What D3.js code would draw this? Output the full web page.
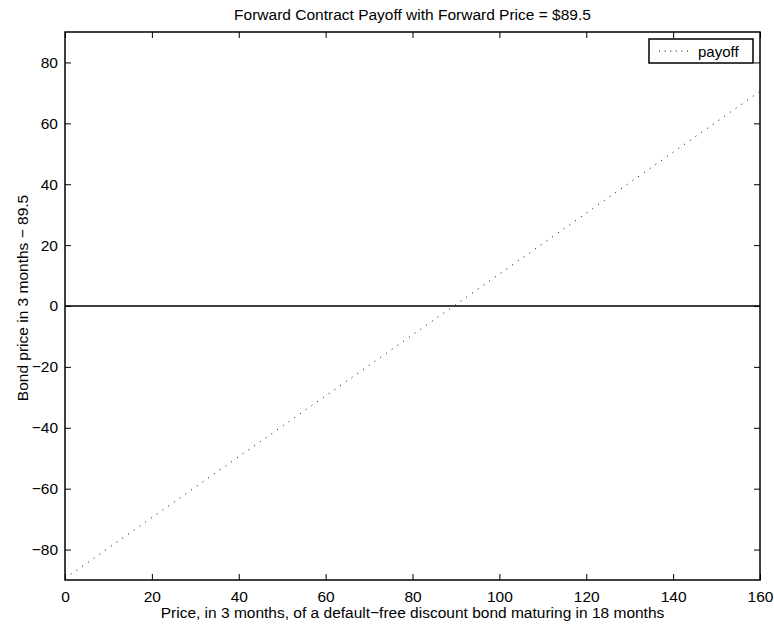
<!doctype html>
<html lang="en">
<head>
<meta charset="utf-8">
<title>Forward Contract Payoff</title>
<style>
  body { margin: 0; background: #fff; }
  svg text { font-family: "Liberation Sans", Arial, sans-serif; font-size: 15.5px; fill: #000; }
</style>
</head>
<body>
<svg id="chart" width="774" height="626"></svg>
<script src="https://d3js.org/d3.v7.min.js"></script>
<script>
const prices = [0, 160];
const payoff = [-89.5, 70.5];
const xTicks = [0, 20, 40, 60, 80, 100, 120, 140, 160];
const yTicks = [-80, -60, -40, -20, 0, 20, 40, 60, 80];

const svg = d3.select('#chart');
const margin = { top: 32, right: 14, bottom: 46, left: 65 };
const width = 774 - margin.left - margin.right;
const height = 626 - margin.top - margin.bottom;
const g = svg.append('g').attr('transform', `translate(${margin.left},${margin.top})`);

const x = d3.scaleLinear().domain([0, 160]).range([0, width]);
const y = d3.scaleLinear().domain([-90, 90]).range([height, 0]);

// zero line
g.append('line')
  .attr('x1', 0).attr('x2', width)
  .attr('y1', y(0)).attr('y2', y(0))
  .attr('stroke', '#000').attr('stroke-width', 1.6);

// payoff line (dotted)
const pts = prices.map((p, i) => ({ p: p, v: payoff[i] }));
g.append('path')
  .datum(pts)
  .attr('fill', 'none')
  .attr('stroke', '#000')
  .attr('stroke-width', 1)
  .attr('stroke-dasharray', '1,6')
  .attr('d', d3.line().x(d => x(d.p)).y(d => y(d.v)));

// axes with inner ticks, mirrored on top/right
const tl = 6;
g.append('g').attr('transform', `translate(0,${height})`)
  .call(d3.axisBottom(x).tickValues(xTicks).tickSizeInner(-tl).tickSizeOuter(0).tickPadding(tl + 5));
g.append('g')
  .call(d3.axisTop(x).tickValues(xTicks).tickSizeInner(-tl).tickSizeOuter(0).tickFormat(''));
g.append('g')
  .call(d3.axisLeft(y).tickValues(yTicks).tickSizeInner(-tl).tickSizeOuter(0).tickPadding(tl + 1)
    .tickFormat(d => d < 0 ? '\u2212' + Math.abs(d) : d));
g.append('g').attr('transform', `translate(${width},0)`)
  .call(d3.axisRight(y).tickValues(yTicks).tickSizeInner(-tl).tickSizeOuter(0).tickFormat(''));
g.selectAll('.domain').remove();
g.selectAll('.tick line').attr('stroke', '#000');
g.selectAll('.tick text').style('font-size', '15.5px').style('font-family', '"Liberation Sans", Arial, sans-serif').attr('fill', '#000');

g.append('rect')
  .attr('width', width).attr('height', height)
  .attr('fill', 'none').attr('stroke', '#000').attr('stroke-width', 1.5);

// legend
const leg = g.append('g').attr('transform', `translate(${width - 111},${7})`);
leg.append('rect').attr('width', 104).attr('height', 24)
  .attr('fill', '#fff').attr('stroke', '#000').attr('stroke-width', 1.5);
leg.append('line').attr('x1', 10).attr('x2', 39).attr('y1', 12).attr('y2', 12)
  .attr('stroke', '#000').attr('stroke-dasharray', '1,4.6');
leg.append('text').attr('x', 49).attr('y', 18).style('font-size', '15px').text('payoff');

// title and labels
svg.append('text').attr('x', margin.left + width / 2).attr('y', 20)
  .attr('text-anchor', 'middle').text('Forward Contract Payoff with Forward Price = $89.5');
svg.append('text').attr('x', margin.left + width / 2).attr('y', 618)
  .attr('text-anchor', 'middle').text('Price, in 3 months, of a default\u2212free discount bond maturing in 18 months');
svg.append('text').attr('transform', `translate(28,${margin.top + height / 2 - 8}) rotate(-90)`)
  .attr('text-anchor', 'middle').text('Bond price in 3 months \u2212 89.5');
</script>
</body>
</html>
